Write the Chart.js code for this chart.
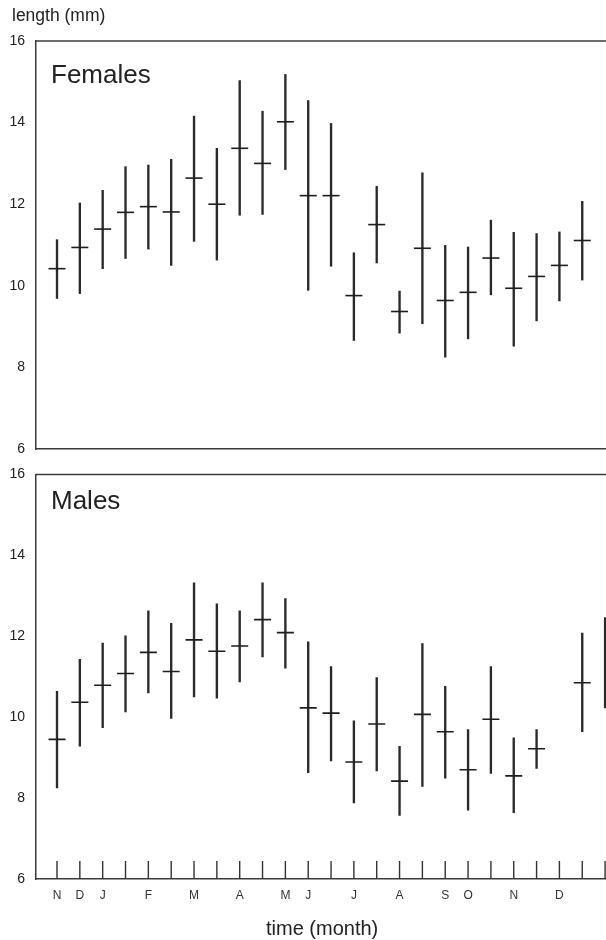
<!DOCTYPE html>
<html><head><meta charset="utf-8">
<script src="https://cdn.jsdelivr.net/npm/chart.js@4/dist/chart.umd.min.js"></script>
<style>
html,body{margin:0;padding:0;background:#fff;}
body{width:606px;height:940px;position:relative;overflow:hidden;font-family:"Liberation Sans",Arial,sans-serif;color:#222;}
canvas{position:absolute;left:0;}
.t{position:absolute;line-height:1;white-space:nowrap;}
</style></head><body>
<canvas id="cTop" width="606" height="470" style="top:0"></canvas>
<canvas id="cBot" width="606" height="485" style="top:455px"></canvas>
<div class="t" style="left:12px;top:7px;font-size:17.5px">length (mm)</div>
<div class="t" style="left:51px;top:61px;font-size:26px">Females</div>
<div class="t" style="left:51px;top:487px;font-size:26px">Males</div>
<div class="t" style="left:266px;top:918px;font-size:20px">time (month)</div>
<script>
// ---- data ----
const sampleIndex = [0,1,2,3,4,5,6,7,8,9,10,11,12,13,14,15,16,17,18,19,20,21,22,23,24];
const monthLabels = ['N','D','J','','F','','M','','A','','M','J','','J','','A','','S','O','','N','','D','',''];
const yTicks = [6,8,10,12,14,16];

const femaleMean = [10.42,10.94,11.39,11.80,11.94,11.81,12.64,12.00,13.37,13.00,14.02,12.21,12.21,9.76,11.50,9.37,10.92,9.64,9.84,10.68,9.94,10.23,10.50,11.11,null];
const femaleHigh = [11.13,12.03,12.34,12.92,12.96,13.10,14.16,13.37,15.03,14.28,15.18,14.54,13.98,10.81,12.44,9.87,12.77,10.99,10.95,11.61,11.31,11.28,11.32,12.07,null];
const femaleLow  = [9.69,9.81,10.42,10.67,10.90,10.50,11.09,10.63,11.73,11.75,12.85,9.89,10.48,8.66,10.56,8.84,9.07,8.25,8.70,9.78,8.52,9.14,9.63,10.14,null];

const maleMean = [9.45,10.37,10.79,11.08,11.60,11.13,11.91,11.63,11.76,12.41,12.09,10.23,10.10,8.89,9.83,8.42,10.07,9.64,8.70,9.95,8.55,9.22,null,10.85,null];
const maleHigh = [10.64,11.43,11.83,12.01,12.63,12.32,13.32,12.80,12.63,13.32,12.93,11.86,11.25,9.91,10.98,9.28,11.82,10.76,9.69,11.25,9.49,9.69,null,12.08,12.46];
const maleLow  = [8.25,9.28,9.74,10.13,10.60,9.97,10.50,10.47,10.87,11.49,11.21,8.63,8.92,7.88,8.67,7.57,8.29,8.49,7.70,8.61,7.64,8.73,null,9.64,10.23];

const FONT = '"Liberation Sans", Arial, sans-serif';
const INK = '#2a2a2a';

const framePlugin = {
  id: 'frame',
  afterDraw(chart, args, opts) {
    const {ctx, chartArea: a, scales} = chart;
    ctx.save();
    ctx.strokeStyle = '#3a3a3a';
    ctx.lineWidth = 1.5;
    ctx.beginPath();
    ctx.moveTo(a.left, a.top);
    ctx.lineTo(a.right, a.top);
    ctx.stroke();
    if (opts.innerTicks) {
      ctx.lineWidth = 1.4;
      ctx.strokeStyle = '#333';
      ctx.beginPath();
      sampleIndex.forEach(i => {
        const x = scales.x.getPixelForValue(i);
        ctx.moveTo(x, a.bottom);
        ctx.lineTo(x, a.bottom - 18);
      });
      ctx.stroke();
    }
    ctx.restore();
  }
};

function makeChart(id, mean, low, high, showX) {
  const bars = sampleIndex.filter(i => low[i] != null && high[i] != null)
    .map(i => ({x: i, y: [low[i], high[i]]}));
  const means = sampleIndex.filter(i => mean[i] != null)
    .map(i => ({x: i, y: mean[i]}));
  return new Chart(document.getElementById(id), {
    type: 'bar',
    data: {
      datasets: [
        {type: 'bar', data: bars, backgroundColor: INK, borderWidth: 0, barThickness: 1.7, order: 2},
        {type: 'line', data: means, showLine: false, pointStyle: 'line', pointRadius: 8.5,
         pointHoverRadius: 8.5, borderColor: '#1e1e1e', pointBorderColor: '#1e1e1e',
         pointBorderWidth: 1.6, borderWidth: 1.6, order: 1}
      ]
    },
    options: {
      responsive: false,
      animation: false,
      events: [],
      layout: {autoPadding: false,
               padding: showX ? {top: 13, bottom: 0, left: 0, right: 0} : {top: 41, bottom: 0, left: 0, right: 0}},
      plugins: {legend: {display: false}, tooltip: {enabled: false}, frame: {innerTicks: showX}},
      scales: {
        x: {
          type: 'linear', min: -0.92, max: 24.04, offset: false,
          grid: {display: false, drawTicks: true, tickLength: 9},
          border: {display: true, color: '#3a3a3a', width: 1.5},
          afterBuildTicks: s => { s.ticks = sampleIndex.map(v => ({value: v})); },
          afterFit: s => { s.height = showX ? 61 : 21; },
          ticks: {
            display: showX, autoSkip: false, maxRotation: 0, padding: 0,
            color: '#333', font: {family: FONT, size: 12},
            callback: v => monthLabels[v] || ''
          }
        },
        y: {
          type: 'linear', min: 6, max: 16,
          afterBuildTicks: s => { s.ticks = yTicks.map(v => ({value: v})); },
          afterFit: s => { s.width = 36; },
          grid: {display: false, drawTicks: false},
          border: {display: true, color: '#3a3a3a', width: 1.5},
          ticks: {padding: 11, color: '#222', font: {family: FONT, size: 14}}
        }
      }
    },
    plugins: [framePlugin]
  });
}

makeChart('cTop', femaleMean, femaleLow, femaleHigh, false);
makeChart('cBot', maleMean, maleLow, maleHigh, true);
</script>
</body></html>
